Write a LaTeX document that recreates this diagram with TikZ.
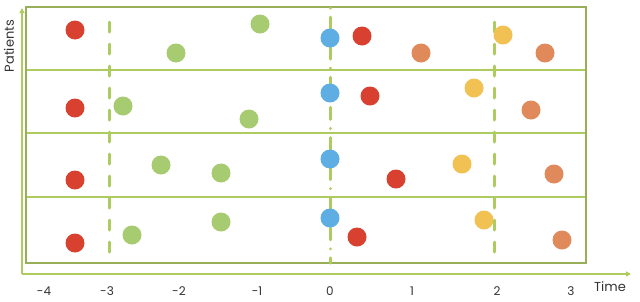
\documentclass[tikz,border=0pt]{standalone}
\usepackage{fontspec}
\setmainfont{Poppins}
\usepackage{tikz}
\usetikzlibrary{arrows.meta}
\definecolor{TimeRed}{HTML}{D8412F}
\definecolor{TimeGreen}{HTML}{A7CB70}
\definecolor{TimeBlue}{HTML}{5EAEE3}
\definecolor{TimeOrange}{HTML}{E08A5B}
\definecolor{TimeYellow}{HTML}{F1C253}
\definecolor{TimeLine}{HTML}{ADCB5F}
\definecolor{TimeFrame}{HTML}{98AE58}
\definecolor{TimeText}{HTML}{333333}
\tikzset{
  >=Latex,
  dot/.style={circle,inner sep=0pt,minimum size=19pt,draw=none},
  reddot/.style={dot,fill=TimeRed},
  greendot/.style={dot,fill=TimeGreen},
  bluedot/.style={dot,fill=TimeBlue},
  orangedot/.style={dot,fill=TimeOrange},
  yellowdot/.style={dot,fill=TimeYellow},
  axis/.style={-{Triangle[length=5pt,width=5pt]},line width=1.6pt,draw=TimeLine},
  frame/.style={line width=1.6pt,draw=TimeFrame},
  divider/.style={line width=1.8pt,draw=TimeLine},
  cutline/.style={line width=3pt,draw=TimeLine,line cap=round,dash pattern=on 10pt off 12pt},
  zeroline/.style={line width=3pt,draw=TimeLine,line cap=round,
    dash pattern=on 0.1pt off 9pt on 12pt off 9pt},
  tick/.style={font=\fontsize{12}{14}\selectfont,text=TimeText},
  axlabel/.style={font=\fontsize{13}{15}\selectfont,text=TimeText}
}

\begin{document}
\begin{tikzpicture}[x=1pt,y=-1pt]
  \useasboundingbox (0,0) rectangle (640,301);

  % axes
  \coordinate (origin) at (22,274);
  \coordinate (ytip) at (22,8);
  \coordinate (xtip) at (631,274);
  \draw[axis] (origin) -- (ytip);
  \draw[axis] (origin) -- (xtip);
  \node[axlabel,rotate=90] (patients) at (9,46) {Patients};
  \node[axlabel] (time) at (610,287) {Time};

  % patient rows
  \coordinate (nw) at (26,7);
  \coordinate (se) at (586,263);
  \draw[divider] (26,70) -- (586,70);
  \draw[divider] (26,133) -- (586,133);
  \draw[divider] (26,197) -- (586,197);
  \draw[frame] (nw) rectangle (se);

  % time marks
  \coordinate (cuta) at (109,22);
  \coordinate (cutb) at (109,263);
  \coordinate (zeroa) at (330,8);
  \coordinate (zerob) at (330,263);
  \coordinate (cutc) at (494,22);
  \coordinate (cutd) at (494,263);
  \draw[cutline] (cuta) -- (cutb);
  \draw[zeroline] (zeroa) -- (zerob);
  \draw[cutline] (cutc) -- (cutd);

  \node[tick] (tm4) at (44,291) {-4};
  \node[tick] (tm3) at (107,291) {-3};
  \node[tick] (tm2) at (179,291) {-2};
  \node[tick] (tm1) at (257,291) {-1};
  \node[tick] (t0) at (330,291) {0};
  \node[tick] (t1) at (412,291) {1};
  \node[tick] (t2) at (497,291) {2};
  \node[tick] (t3) at (571,291) {3};

  % row 1
  \node[reddot] (ra1) at (75,30) {};
  \node[greendot] (ga1) at (176,53) {};
  \node[greendot] (gb1) at (260,24) {};
  \node[bluedot] (b1) at (330,38) {};
  \node[reddot] (rb1) at (362,36) {};
  \node[orangedot] (oa1) at (421,53) {};
  \node[yellowdot] (y1) at (503,35) {};
  \node[orangedot] (ob1) at (545,53) {};

  % row 2
  \node[reddot] (ra2) at (75,108) {};
  \node[greendot] (ga2) at (123,106) {};
  \node[greendot] (gb2) at (249,119) {};
  \node[bluedot] (b2) at (330,93) {};
  \node[reddot] (rb2) at (370,96) {};
  \node[yellowdot] (y2) at (474,88) {};
  \node[orangedot] (o2) at (531,110) {};

  % row 3
  \node[reddot] (ra3) at (75,180) {};
  \node[greendot] (ga3) at (161,165) {};
  \node[greendot] (gb3) at (221,173) {};
  \node[bluedot] (b3) at (330,159) {};
  \node[reddot] (rb3) at (396,179) {};
  \node[yellowdot] (y3) at (462,164) {};
  \node[orangedot] (o3) at (554,174) {};

  % row 4
  \node[reddot] (ra4) at (75,243) {};
  \node[greendot] (ga4) at (132,235) {};
  \node[greendot] (gb4) at (221,222) {};
  \node[bluedot] (b4) at (330,218) {};
  \node[reddot] (rb4) at (357,237) {};
  \node[yellowdot] (y4) at (484,220) {};
  \node[orangedot] (o4) at (562,240) {};
\end{tikzpicture}
\end{document}
